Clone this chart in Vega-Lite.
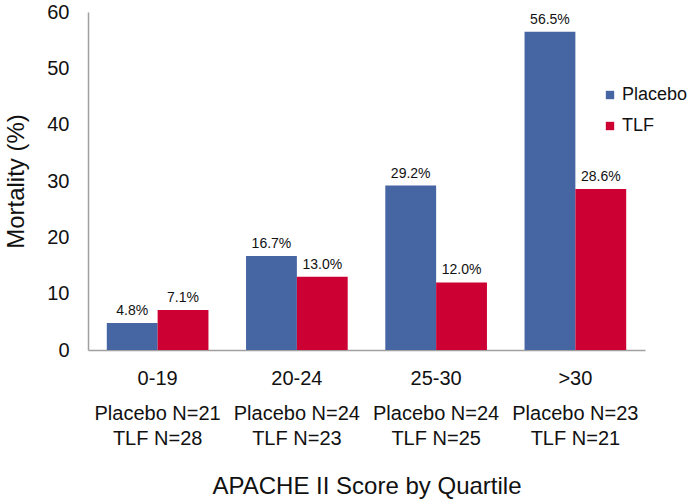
{
  "$schema": "https://vega.github.io/schema/vega-lite/v6.json",
  "autosize": "none",
  "width": 557,
  "height": 338,
  "padding": {"left": 88, "top": 12, "right": 45, "bottom": 154},
  "background": "white",
  "config": {
    "font": "Liberation Sans",
    "view": {"stroke": null},
    "axis": {"grid": false, "ticks": false, "domainColor": "#a0a0a0", "domainWidth": 1.5, "labelColor": "#111", "titleColor": "#111", "titleFontWeight": "normal"}
  },
  "data": {
    "values": [
      {"quartile": "0-19|Placebo N=21|TLF N=28", "treatment": "Placebo", "mortality": 4.8},
      {"quartile": "0-19|Placebo N=21|TLF N=28", "treatment": "TLF", "mortality": 7.1},
      {"quartile": "20-24|Placebo N=24|TLF N=23", "treatment": "Placebo", "mortality": 16.7},
      {"quartile": "20-24|Placebo N=24|TLF N=23", "treatment": "TLF", "mortality": 13.0},
      {"quartile": "25-30|Placebo N=24|TLF N=25", "treatment": "Placebo", "mortality": 29.2},
      {"quartile": "25-30|Placebo N=24|TLF N=25", "treatment": "TLF", "mortality": 12.0},
      {"quartile": ">30|Placebo N=23|TLF N=21", "treatment": "Placebo", "mortality": 56.5},
      {"quartile": ">30|Placebo N=23|TLF N=21", "treatment": "TLF", "mortality": 28.6}
    ]
  },
  "transform": [
    {"calculate": "format(datum.mortality, '.1f') + '%'", "as": "pct"}
  ],
  "encoding": {
    "xOffset": {"field": "treatment", "type": "nominal", "sort": ["Placebo", "TLF"]},
    "y": {
      "field": "mortality",
      "type": "quantitative",
      "scale": {"domain": [0, 60]},
      "axis": {
        "title": "Mortality (%)",
        "titleFontSize": 24,
        "titlePadding": 18,
        "labelFontSize": 20,
        "labelPadding": 19,
        "values": [0, 10, 20, 30, 40, 50, 60]
      }
    }
  },
  "layer": [
    {
      "mark": {"type": "bar"},
      "encoding": {
        "x": {
          "field": "quartile",
          "type": "nominal",
          "sort": null,
          "scale": {"paddingInner": 0.27, "paddingOuter": 0.135},
          "axis": {
            "orient": "bottom",
            "title": null,
            "labelFontSize": 20,
            "labelAngle": 0,
            "labelPadding": 18,
            "labelExpr": "split(datum.label, '|')[0]"
          }
        },
        "color": {
          "field": "treatment",
          "type": "nominal",
          "scale": {"domain": ["Placebo", "TLF"], "range": ["#4565a3", "#cc0033"]},
          "legend": {
            "title": null,
            "orient": "none",
            "legendX": 513,
            "legendY": 74,
            "symbolType": "square",
            "symbolSize": 70,
            "symbolStrokeWidth": 0,
            "labelFontSize": 18,
            "labelOffset": 3,
            "rowPadding": 13,
            "labelColor": "#111"
          }
        }
      }
    },
    {
      "mark": {"type": "text", "baseline": "bottom", "dy": -5, "fontSize": 14, "color": "#111"},
      "encoding": {
        "x": {
          "field": "quartile",
          "type": "nominal",
          "sort": null,
          "axis": {
            "orient": "bottom",
            "domain": false,
            "title": "APACHE II Score by Quartile",
            "titleFontSize": 24,
            "titlePadding": 26,
            "labelFontSize": 20,
            "labelAngle": 0,
            "labelPadding": 53,
            "labelLineHeight": 25,
            "labelExpr": "slice(split(datum.label, '|'), 1)"
          }
        },
        "text": {"field": "pct"}
      }
    }
  ],
  "resolve": {"axis": {"x": "independent"}}
}
